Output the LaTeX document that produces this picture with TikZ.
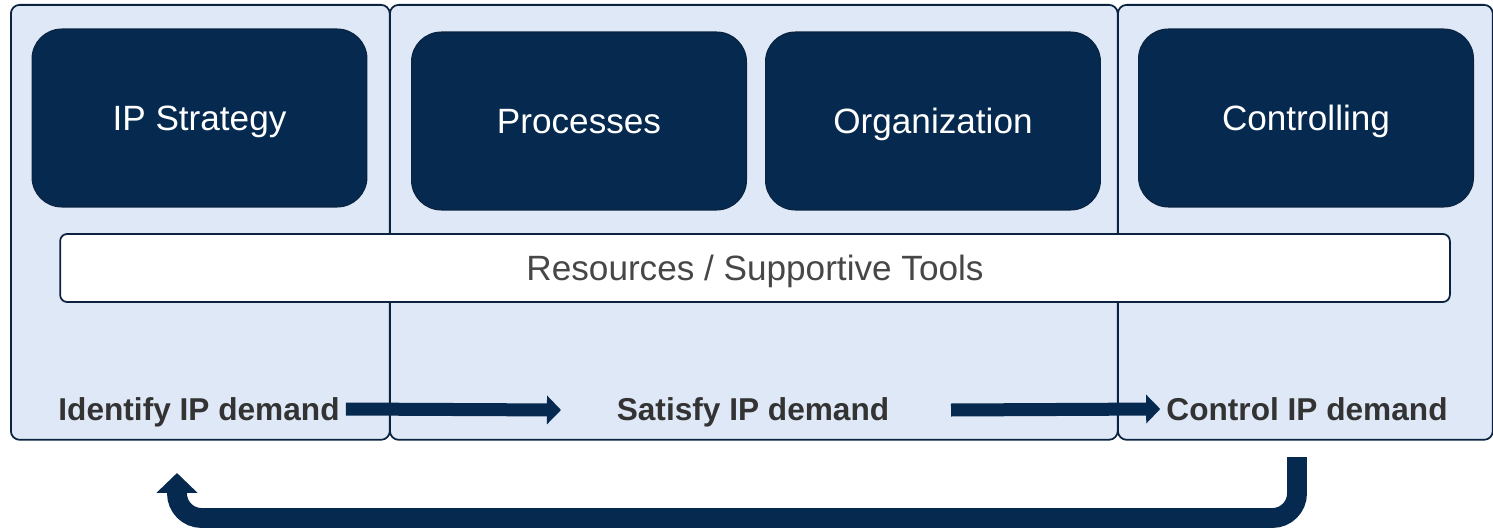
\documentclass[tikz,border=0pt]{standalone}
\usepackage{fontspec}
\setmainfont{Liberation Sans}
\usetikzlibrary{arrows.meta,positioning,calc}

\definecolor{navy}{HTML}{06294F}
\definecolor{navyline}{HTML}{0B2340}
\definecolor{panelblue}{HTML}{DFE8F7}
\definecolor{labelgray}{HTML}{333333}
\definecolor{toolgray}{HTML}{474747}

\begin{document}
\begin{tikzpicture}[x=0.02cm, y=-0.02cm, node distance=0.36cm,
  every node/.style={font=\fontsize{20}{24}\selectfont, text height=14.4pt, text depth=0pt},
  panel/.style={rectangle, rounded corners=5pt, draw=navyline, line width=1pt, fill=panelblue, anchor=north west, inner sep=0pt, minimum height=8.7cm},
  block/.style={rectangle, rounded corners=17pt, draw=navyline, line width=0.6pt, fill=navy, text=white, minimum width=6.7cm, minimum height=3.56cm},
  phase/.style={font=\fontsize{18}{22}\selectfont\bfseries, text=labelgray, text height=13pt},
  flow/.style={navy, line width=7.4pt, -{Triangle[length=8pt,width=16pt]}},
  back/.style={navy, line width=11.3pt, rounded corners=14pt, -{Triangle[length=11.3pt,width=22.7pt]}}]
  \useasboundingbox (0,0) rectangle (1493,530);

  % phases
  \node[panel, minimum width=7.58cm] (identify) at (10,4) {};
  \node[panel, minimum width=14.56cm] (satisfy) at (389,4) {};
  \node[panel, minimum width=7.5cm] (control) at (1117,4) {};

  % building blocks
  \node[block] (strat) at (199.5,118) {IP Strategy};
  \node[block] (proc) at (579,121) {Processes};
  \node[block, right=of proc] (orga) {Organization};
  \node[block] (ctrl) at (1306,118) {Controlling};

  \node[rectangle, rounded corners=4pt, draw=navyline, line width=1pt, fill=white, text=toolgray,
        minimum width=27.8cm, minimum height=1.36cm] (tools) at (755,268) {Resources / Supportive Tools};

  % labels + arrows
  \node[phase] (idlbl) at (199,409) {Identify IP demand};
  \node[phase] (satlbl) at (753,409) {Satisfy IP demand};
  \node[phase] (ctrllbl) at (1307,409) {Control IP demand};

  \coordinate (arrA) at (561,410);
  \coordinate (arrB) at (951,410);
  \draw[flow] (idlbl.east) -- (arrA);
  \draw[flow] (arrB) -- (ctrllbl.west);

  \coordinate (retStart) at (1297,457);
  \coordinate (retEnd) at (177,473);
  \draw[back] (retStart) -- (1297,518) -- (177,518) -- (retEnd);
\end{tikzpicture}
\end{document}
